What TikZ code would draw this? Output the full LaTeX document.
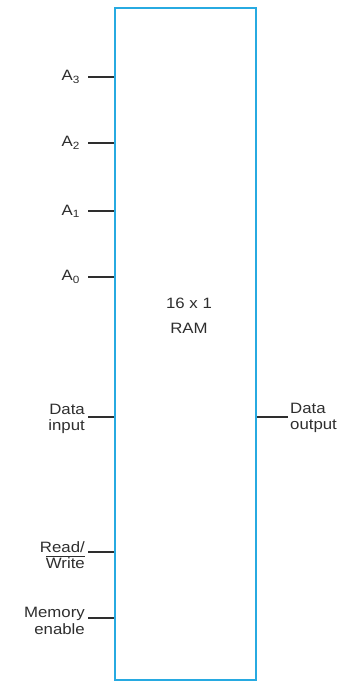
\documentclass[tikz,border=0pt]{standalone}
\usepackage{fontspec}
\setmainfont[FakeStretch=1.12]{Liberation Sans}
\usepackage{tikz}
\usetikzlibrary{positioning}
\definecolor{ramblue}{HTML}{27AAE1}
\definecolor{wire}{HTML}{2E2E2E}
\tikzset{
  chip/.style={draw=ramblue,line width=1.6pt,minimum width=141pt,minimum height=672pt,
               inner sep=0pt},
  pin/.style={draw=wire,line width=1.5pt},
  pinlabel/.style={font=\fontsize{15}{16.5}\selectfont,text=wire,inner sep=1pt,align=right},
  outlabel/.style={pinlabel,align=left},
}

\begin{document}
\begin{tikzpicture}[x=1pt,y=-1pt,node distance=2pt]
  \useasboundingbox (0,0) rectangle (345,682);
  \node[chip] (ram) at (185.5,344) {};
  \node[pinlabel,align=center] (name) at (189,316) {16 x 1\\[8pt]RAM};

  % address inputs
  \coordinate (a3in) at (88,77);
  \coordinate (a2in) at (88,143);
  \coordinate (a1in) at (88,211);
  \coordinate (a0in) at (88,277);
  \draw[pin] (a3in) -- (a3in -| ram.west); \node[pinlabel,left=7pt of a3in] (la3) {A\textsubscript{3}};
  \draw[pin] (a2in) -- (a2in -| ram.west); \node[pinlabel,left=7pt of a2in] (la2) {A\textsubscript{2}};
  \draw[pin] (a1in) -- (a1in -| ram.west); \node[pinlabel,left=7pt of a1in] (la1) {A\textsubscript{1}};
  \draw[pin] (a0in) -- (a0in -| ram.west); \node[pinlabel,left=7pt of a0in] (la0) {A\textsubscript{0}};

  % data and control
  \coordinate (din) at (88,417);
  \coordinate (rwin) at (88,552);
  \coordinate (mein) at (88,618);
  \coordinate (dout) at (288,417);
  \draw[pin] (din) -- (din -| ram.west);
  \node[pinlabel,left=of din,yshift=-2pt] (ldin) {Data\\input};
  \draw[pin] (rwin) -- (rwin -| ram.west);
  \node[pinlabel,left=of rwin,yshift=-3pt] (lrw) {Read/\\$\overline{\mbox{Write}}$};
  \draw[pin] (mein) -- (mein -| ram.west);
  \node[pinlabel,left=of mein,yshift=-3pt] (lme) {Memory\\enable};
  \draw[pin] (ram.east |- dout) -- (dout);
  \node[outlabel,right=1pt of dout,yshift=-1pt] (ldout) {Data\\output};
\end{tikzpicture}
\end{document}
